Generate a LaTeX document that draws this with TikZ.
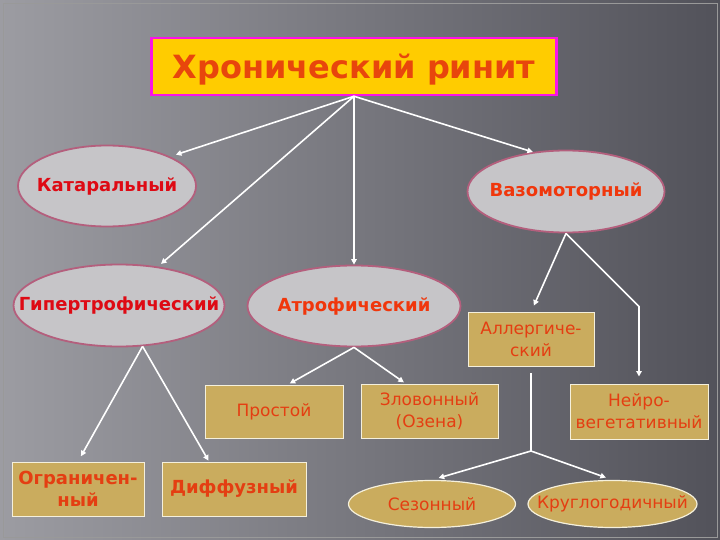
\documentclass[tikz,border=0pt]{standalone}
\usepackage{fontspec}
\setmainfont{DejaVu Sans}
\usetikzlibrary{positioning}
\usetikzlibrary{arrows.meta}
\usetikzlibrary{calc, shapes}

\definecolor{bgLight}{RGB}{156,156,162}
\definecolor{bgDark}{RGB}{82,82,90}
\definecolor{titleGold}{RGB}{255,204,0}
\definecolor{titleRim}{RGB}{250,20,230}
\definecolor{titleInk}{RGB}{232,70,12}
\definecolor{ovalGrey}{RGB}{198,197,200}
\definecolor{ovalRim}{RGB}{180,95,125}
\definecolor{deepRed}{RGB}{222,10,20}
\definecolor{fireRed}{RGB}{240,55,12}
\definecolor{boxGold}{RGB}{202,172,94}
\definecolor{boxRim}{RGB}{245,240,220}
\definecolor{boxInk}{RGB}{228,62,18}

\tikzset{%
	% Specifications for style of nodes:
	base/.style = {inner sep=0pt, align=center, text centered},
	greyOval/.style = {base, ellipse, inner xsep=-50pt, draw=ovalRim, line width=1.8pt,
		fill=ovalGrey, font=\fontsize{18pt}{21pt}\selectfont\bfseries},
	goldBox/.style = {base, rectangle, draw=boxRim, line width=1pt, fill=boxGold,
		text=boxInk, font=\fontsize{17pt}{22pt}\selectfont},
	goldOval/.style = {base, ellipse, inner xsep=-45pt, draw=boxRim, line width=1.2pt,
		fill=boxGold, text=boxInk, font=\fontsize{17pt}{22pt}\selectfont},
	boldInk/.style = {font=\fontsize{18pt}{22pt}\selectfont\bfseries},
	arr/.style = {draw=white, line width=1.6pt, -{Triangle[length=5.5pt,width=5.5pt]}},
}

\begin{document}
\begin{tikzpicture}[x=1pt, y=1pt]
	\shade[left color=bgLight, right color=bgDark] (0,0) rectangle (720,-540);
	\draw[gray!80, line width=0.6pt] (3,-3) rectangle (717,-537);
	\useasboundingbox (0,0) rectangle (720,-540);
	
	\node (title) [base, rectangle, draw=titleRim, line width=2.5pt, fill=titleGold, text=titleInk, text depth=0pt,
		font=\fontsize{32pt}{36pt}\selectfont\bfseries, minimum width=405pt, minimum height=57pt] at (354,-66.5) {Хронический ринит};
	
	\node (kat) [greyOval, text=deepRed, minimum width=178pt, minimum height=81pt] at (107,-186) {Катаральный};
	\node (vaz) [greyOval, text=fireRed, minimum width=197pt, minimum height=82pt] at (566,-191.5) {Вазомоторный};
	\node (gip) [greyOval, text=deepRed, minimum width=211pt, minimum height=82pt] at (119,-305.5) {Гипертрофический};
	\node (atr) [greyOval, text=fireRed, minimum width=213pt, minimum height=81pt] at (354,-306) {Атрофический};
	
	\node (all) [goldBox, minimum width=126pt, minimum height=54pt] at (531,-339.5) {Аллергиче-\\ский};
	\node (prost) [goldBox, minimum width=138pt, minimum height=53pt] at (274,-411.5) {Простой};
	\node (zlov) [goldBox, minimum width=137pt, minimum height=54pt] at (429.5,-411) {Зловонный\\(Озена)};
	\node (neiro) [goldBox, minimum width=138pt, minimum height=55pt] at (639,-411.5) {Нейро-\\вегетативный};
	\node (ogr) [goldBox, boldInk, minimum width=132pt, minimum height=54pt] at (78,-489) {Ограничен-\\ный};
	\node (diff) [goldBox, boldInk, minimum width=144pt, minimum height=54pt] at (234,-489) {Диффузный};
	\node (sez) [goldOval, minimum width=167pt, minimum height=47pt] at (432,-504) {Сезонный};
	\node (krug) [goldOval, minimum width=169pt, minimum height=47pt] at (612.5,-504) {Круглогодичный};
	
	\draw[arr, shorten >=6pt] (title.south) -- (kat.25);
	\draw[arr, shorten >=4pt] (title.south) -- (gip.45);
	\draw[arr] (title.south) -- (atr.north);
	\draw[arr] (title.south) -- (vaz.130);
	\draw[arr, shorten >=7pt] (vaz.south) -- (all.north);
	\draw[arr, shorten >=7pt] (vaz.south) -- ++(73,-73) -- (neiro.north);
	\draw[arr, shorten >=2pt] (atr.south) -- ([xshift=14pt]prost.north);
	\draw[arr, shorten >=2pt] (atr.south) -- ([xshift=-24pt]zlov.north);
	\draw[arr, shorten >=6pt] (gip.300) -- (ogr.north);
	\draw[arr, shorten >=1pt] (gip.300) -- ([xshift=-25pt]diff.north);
	\coordinate (allSplit) at ($(all.south)+(0,-84)$);
	\draw[white, line width=1.6pt, shorten <=6pt] (all.south) -- (allSplit);
	\draw[arr, shorten >=7pt] (allSplit) -- (sez.north);
	\draw[arr, shorten >=7pt] (allSplit) -- (krug.north);
\end{tikzpicture}
\end{document}
